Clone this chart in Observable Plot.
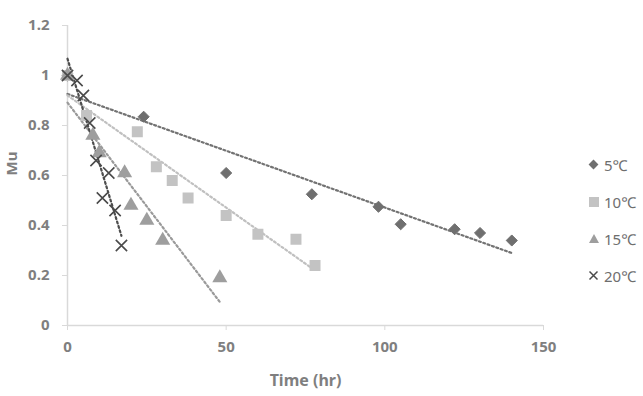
<!DOCTYPE html>
<html>
<head>
<meta charset="utf-8">
<script src="https://cdn.jsdelivr.net/npm/d3@7"></script>
<script src="https://cdn.jsdelivr.net/npm/@observablehq/plot@0.6"></script>
<style>
  html, body { margin: 0; padding: 0; background: #fff; }
  #wrap { position: relative; width: 643px; height: 396px; font-family: "Noto Sans", "Open Sans", sans-serif; }
  #legend { position: absolute; left: 586px; top: 146px; font-size: 15px; color: #6e6e6e; }
  .item { display: flex; align-items: center; height: 37px; }
  .item svg { width: 16px; height: 16px; margin-right: 2px; }
</style>
</head>
<body>
<div id="wrap"><div id="legend"></div></div>
<script>
// Series: time (hr) and Mu
const seriesNames = ["5℃", "10℃", "15℃", "20℃"];
const x5  = [0, 24, 50, 77, 98, 105, 122, 130, 140];
const y5  = [1, 0.835, 0.61, 0.525, 0.475, 0.405, 0.385, 0.37, 0.34];
const x10 = [0, 6, 22, 28, 33, 38, 50, 60, 72, 78];
const y10 = [1, 0.84, 0.775, 0.635, 0.58, 0.51, 0.44, 0.365, 0.345, 0.24];
const x15 = [0, 8, 10, 18, 20, 25, 30, 48];
const y15 = [1, 0.76, 0.69, 0.61, 0.48, 0.42, 0.34, 0.19];
const x20 = [0, 3, 5, 7, 9, 11, 13, 15, 17];
const y20 = [1, 0.98, 0.92, 0.81, 0.66, 0.51, 0.61, 0.46, 0.32];
const xTicks = [0, 50, 100, 150];
const yTicks = [0, 0.2, 0.4, 0.6, 0.8, 1, 1.2];
const yTickLabels = ["0", "0.2", "0.4", "0.6", "0.8", "1", "1.2"];

const toRows = (xs, ys) => xs.map((x, i) => ({x, y: ys[i]}));
const d5 = toRows(x5, y5), d10 = toRows(x10, y10), d15 = toRows(x15, y15), d20 = toRows(x20, y20);

const styles = [
  {data: d5,  color: "#6f6f6f", line: "#737373", symbol: "diamond2", r: 5,   sw: 1},
  {data: d10, color: "#c3c3c3", line: "#c0c0c0", symbol: "square",   r: 6.2, sw: 0},
  {data: d15, color: "#9e9e9e", line: "#9a9a9a", symbol: "triangle", r: 5.6, sw: 0},
  {data: d20, color: "#4a4a4a", line: "#4d4d4d", symbol: "times",    r: 5.2, sw: 1.6}
];

const marks = [
  Plot.ruleY([0], {stroke: "#d9d9d9", strokeWidth: 1.5}),
  Plot.ruleX([0], {stroke: "#d9d9d9", strokeWidth: 1.5}),
  Plot.axisX({ticks: xTicks, tickSize: 5, tickPadding: 11, stroke: "#d9d9d9", fill: "#7f7f7f", fontSize: 15, fontWeight: "bold", label: null, tickFormat: d => String(d)}),
  Plot.axisY({ticks: yTicks, tickSize: 5, tickPadding: 13, stroke: "#d9d9d9", fill: "#7f7f7f", fontSize: 15, fontWeight: "bold", label: null, tickFormat: (d, i) => yTickLabels[i]}),
  Plot.text(["Time (hr)"], {frameAnchor: "bottom", dy: 60, fill: "#7f7f7f", fontSize: 16, fontWeight: "bold"}),
  Plot.text(["Mu"], {frameAnchor: "left", dx: -55, rotate: -90, fill: "#7f7f7f", fontSize: 15, fontWeight: "bold"})
];
for (const s of styles) {
  marks.push(Plot.linearRegressionY(s.data, {x: "x", y: "y", ci: 0, stroke: s.line, strokeWidth: 2.2, strokeDasharray: "2,2.6"}));
}
for (const s of styles) {
  const isStroke = s.symbol === "times";
  marks.push(Plot.dot(s.data, {x: "x", y: "y", symbol: s.symbol, r: s.r,
    fill: isStroke ? "none" : s.color, stroke: s.color, strokeWidth: s.sw}));
}

const chart = Plot.plot({
  width: 643, height: 396,
  marginLeft: 67, marginRight: 100, marginTop: 25, marginBottom: 71,
  style: {fontFamily: "'Noto Sans', 'Open Sans', sans-serif", background: "white"},
  x: {domain: [0, 150]},
  y: {domain: [0, 1.2]},
  marks
});
document.getElementById("wrap").prepend(chart);

// Legend
const legend = document.getElementById("legend");
const iconPaths = {
  "diamond2": `<rect x="4" y="4" width="7" height="7" transform="rotate(45 7.5 7.5)" fill="#6f6f6f"/>`,
  "square": `<rect x="3" y="3" width="10" height="10" fill="#c3c3c3"/>`,
  "triangle": `<path d="M8 3 L13 12 L3 12 Z" fill="#9e9e9e"/>`,
  "times": `<path d="M3.5 3.5 L11.5 11.5 M11.5 3.5 L3.5 11.5" stroke="#4a4a4a" stroke-width="1.5"/>`
};
styles.forEach((s, i) => {
  const div = document.createElement("div");
  div.className = "item";
  div.innerHTML = `<svg viewBox="0 0 16 16">${iconPaths[s.symbol]}</svg><span>${seriesNames[i]}</span>`;
  legend.appendChild(div);
});
</script>
</body>
</html>
